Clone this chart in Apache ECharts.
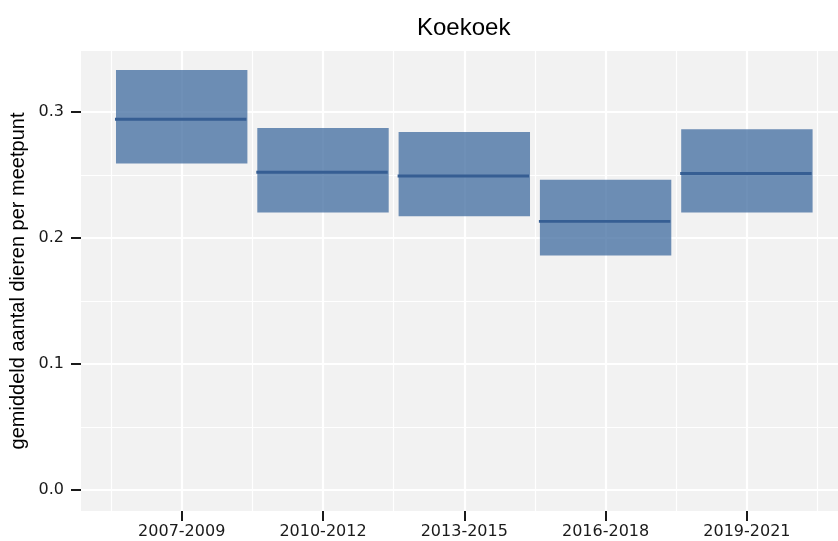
<!DOCTYPE html>
<html>
<head>
<meta charset="utf-8">
<script src="https://cdn.jsdelivr.net/npm/echarts@6/dist/echarts.min.js"></script>
<style>
  html, body { margin: 0; padding: 0; background: #ffffff; }
  #chart { width: 838px; height: 541px; }
</style>
</head>
<body>
<div id="chart"></div>
<script>
// Periods and crossbar values (lower bound, mean, upper bound)
const periods = ['2007-2009', '2010-2012', '2013-2015', '2016-2018', '2019-2021'];
const meanValues = [0.294, 0.252, 0.249, 0.213, 0.251];
const lowerValues = [0.259, 0.220, 0.217, 0.186, 0.220];
const upperValues = [0.333, 0.287, 0.284, 0.246, 0.286];
const yTickValues = [0.0, 0.1, 0.2, 0.3];

// Panel geometry (pixels)
const PANEL = { left: 81, top: 51, right: 838, bottom: 511 };
const Y_ZERO_PX = 490;          // pixel row of value 0
const Y_TOP_TICK_PX = 111.7;    // pixel row of the highest tick value
const yTopTick = yTickValues[yTickValues.length - 1];
const pxPerUnit = (Y_ZERO_PX - Y_TOP_TICK_PX) / yTopTick;
const yMin = -(PANEL.bottom - Y_ZERO_PX) / pxPerUnit;
const yMax = (Y_ZERO_PX - PANEL.top) / pxPerUnit;

const FIRST_CENTER_PX = 181.7;
const STEP_PX = 141.3;
const bandLeft = FIRST_CENTER_PX - STEP_PX / 2;
const bandRight = FIRST_CENTER_PX + STEP_PX * (periods.length - 0.5);
const BAR_FRACTION = 0.93;

const crossbarData = periods.map((p, i) => [i, lowerValues[i], meanValues[i], upperValues[i]]);

const tickFont = 'DejaVu Sans';
const textFont = 'Liberation Sans';

const chart = echarts.init(document.getElementById('chart'), null, { renderer: 'canvas' });

const option = {
  animation: false,
  backgroundColor: '#ffffff',
  title: {
    text: 'Koekoek',
    left: 463.7,
    top: 16,
    padding: 0,
    textAlign: 'center',
    textStyle: { fontFamily: textFont, fontSize: 24, fontWeight: 'normal', color: '#000000' }
  },
  grid: [
    { // panel background
      left: PANEL.left, top: PANEL.top,
      width: PANEL.right - PANEL.left, height: PANEL.bottom - PANEL.top,
      show: true, backgroundColor: '#f2f2f2', borderWidth: 0,
      containLabel: false, outerBoundsMode: 'none'
    },
    { // horizontal grid lines and y tick labels
      left: PANEL.left, top: Y_TOP_TICK_PX,
      width: PANEL.right - PANEL.left, height: Y_ZERO_PX - Y_TOP_TICK_PX,
      show: false, containLabel: false, outerBoundsMode: 'none'
    },
    { // period bands, vertical grid lines and crossbars
      left: bandLeft, top: PANEL.top,
      width: bandRight - bandLeft, height: PANEL.bottom - PANEL.top,
      show: false, containLabel: false, outerBoundsMode: 'none'
    }
  ],
  xAxis: [
    { gridIndex: 0, type: 'value', min: 0, max: 1, show: false },
    { gridIndex: 1, type: 'value', min: 0, max: 1, show: false },
    {
      gridIndex: 2, type: 'category', data: periods, position: 'bottom',
      boundaryGap: true,
      axisLine: { show: false, onZero: false },
      axisTick: { show: true, alignWithLabel: true, length: 10, lineStyle: { color: '#1a1a1a', width: 2 } },
      axisLabel: { margin: 13, fontFamily: tickFont, fontSize: 16, color: '#1a1a1a' },
      splitLine: { show: false }
    },
    {
      gridIndex: 2, type: 'value', min: 0, max: periods.length, interval: 1, position: 'top',
      axisLine: { show: false, onZero: false }, axisTick: { show: false }, axisLabel: { show: false },
      splitLine: { show: true, lineStyle: { color: '#ffffff', width: 1.2 } },
      minorTick: { show: false, splitNumber: 2 },
      minorSplitLine: { show: true, lineStyle: { color: '#ffffff', width: 2.2 } }
    }
  ],
  yAxis: [
    { gridIndex: 0, type: 'value', min: 0, max: 1, show: false },
    {
      gridIndex: 1, type: 'value', min: 0, max: yTopTick, interval: 0.1,
      axisLine: { show: false, onZero: false },
      axisTick: { show: true, length: 10, lineStyle: { color: '#1a1a1a', width: 2 } },
      axisLabel: {
        margin: 17, fontFamily: tickFont, fontSize: 16, color: '#1a1a1a',
        formatter: v => v.toFixed(1)
      },
      splitLine: { show: true, lineStyle: { color: '#ffffff', width: 2.2 } },
      minorTick: { show: false, splitNumber: 2 },
      minorSplitLine: { show: true, lineStyle: { color: '#ffffff', width: 1.2 } }
    },
    {
      gridIndex: 2, type: 'value', min: yMin, max: yMax,
      name: 'gemiddeld aantal dieren per meetpunt',
      nameLocation: 'middle', nameGap: 83, nameRotate: 90,
      nameTextStyle: { fontFamily: textFont, fontSize: 20, color: '#000000' },
      axisLine: { show: false, onZero: false }, axisTick: { show: false }, axisLabel: { show: false },
      splitLine: { show: false }
    }
  ],
  series: [
    {
      type: 'custom',
      xAxisIndex: 2,
      yAxisIndex: 2,
      data: crossbarData,
      clip: false,
      renderItem: function (params, api) {
        const idx = api.value(0);
        const pHi = api.coord([idx, api.value(3)]);
        const pLo = api.coord([idx, api.value(1)]);
        const pMid = api.coord([idx, api.value(2)]);
        const w = api.size([1, 0])[0] * BAR_FRACTION;
        return {
          type: 'group',
          children: [
            {
              type: 'rect',
              shape: { x: pHi[0] - w / 2, y: pHi[1], width: w, height: pLo[1] - pHi[1] },
              style: { fill: 'rgba(55,101,155,0.72)' }
            },
            {
              type: 'line',
              shape: { x1: pMid[0] - w / 2 - 1, y1: pMid[1], x2: pMid[0] + w / 2 - 1, y2: pMid[1] },
              style: { stroke: '#365e93', lineWidth: 2.8 }
            }
          ]
        };
      }
    }
  ]
};

chart.setOption(option);
</script>
</body>
</html>
